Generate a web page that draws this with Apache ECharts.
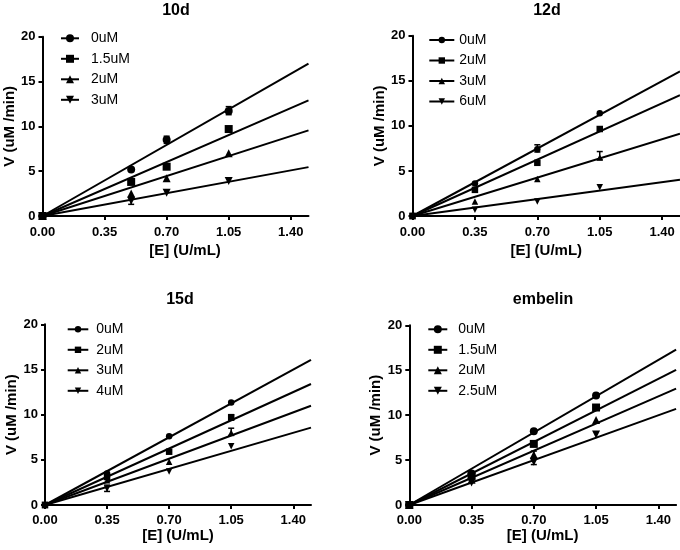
<!DOCTYPE html>
<html>
<head>
<meta charset="utf-8">
<script src="https://cdn.jsdelivr.net/npm/echarts@6/dist/echarts.min.js"></script>
<style>
html,body{margin:0;padding:0;background:#fff;}
#chart{width:680px;height:550px;}
</style>
</head>
<body>
<div id="chart"></div>
<script>
// ---------- shared ----------
const xTickValues = [0, 0.35, 0.70, 1.05, 1.40];
const xMax = 1.5;
const yMax = 20;
const yInterval = 5;
const xName = '[E] (U/mL)';
const yName = 'V (uM /min)';

// ---------- panel 10d ----------
const t10d = '10d';
const x10d = [0, 0.5, 0.7, 1.05];
const labels10d = ['0uM', '1.5uM', '2uM', '3uM'];
const v10d_0 = [0, 5.2, 8.5, 11.7];
const v10d_1 = [0, 3.8, 5.5, 9.7];
const v10d_2 = [0, 2.5, 4.2, 7.0];
const v10d_3 = [0, 1.7, 2.6, 3.9];
const fit10d = [17.0, 12.9, 9.55, 5.45];          // fitted line value at x = 1.5
const err10d = [[0.5, 1.3, 2.05], [0.7, 8.1, 8.9], [1.05, 11.3, 12.2]];

// ---------- panel 12d ----------
const t12d = '12d';
const x12d = [0, 0.35, 0.7, 1.05];
const labels12d = ['0uM', '2uM', '3uM', '6uM'];
const v12d_0 = [0, 3.6, 7.4, 11.4];
const v12d_1 = [0, 2.9, 5.9, 9.65];
const v12d_2 = [0, 1.6, 4.1, 6.5];
const v12d_3 = [0, 0.7, 1.6, 3.2];
const fit12d = [16.05, 13.4, 9.13, 4.02];
const err12d = [[0.7, 7.1, 7.9], [1.05, 6.25, 7.15]];

// ---------- panel 15d ----------
const t15d = '15d';
const x15d = [0, 0.35, 0.7, 1.05];
const labels15d = ['0uM', '2uM', '3uM', '4uM'];
const v15d_0 = [0, 3.5, 7.6, 11.35];
const v15d_1 = [0, 3.1, 5.9, 9.7];
const v15d_2 = [0, 2.75, 4.8, 8.0];
const v15d_3 = [0, 1.8, 3.7, 6.5];
const fit15d = [16.05, 13.39, 10.99, 8.56];
const err15d = [[1.05, 7.7, 8.5], [1.05, 9.4, 10.0], [0.35, 1.5, 2.2]];

// ---------- panel embelin ----------
const tEmb = 'embelin';
const xEmb = [0, 0.35, 0.7, 1.05];
const labelsEmb = ['0uM', '1.5uM', '2uM', '2.5uM'];
const vEmb_0 = [0, 3.5, 8.2, 12.2];
const vEmb_1 = [0, 3.2, 6.8, 10.85];
const vEmb_2 = [0, 2.8, 5.6, 9.45];
const vEmb_3 = [0, 2.5, 4.8, 7.85];
const fitEmb = [17.3, 15.05, 12.95, 10.7];
const errEmb = [[0.7, 5.2, 6.0], [0.7, 4.5, 5.1]];

// ---------- layout (styles only) ----------
const FONT = '"Liberation Sans", Arial, Helvetica, sans-serif';
const symbols = ['circle', 'rect', 'triangle', 'path://M0,0 L10,0 L5,10 Z'];

const panels = [
  { title: t10d, x: x10d, vals: [v10d_0, v10d_1, v10d_2, v10d_3], fit: fit10d, labels: labels10d, err: err10d,
    grid: { left: 42.5, top: 36.7, width: 266, height: 179.3 },
    titlePos: [176, 11], yGap: 25.5, xGap: 27.5, xNamePad: [0, 0, 0, 19], xLabMargin: 10,
    legend: { left: 60, top: 31.3, itemWidth: 18, textPad: 7 }, size: 8, legSize: 10 },
  { title: t12d, x: x12d, vals: [v12d_0, v12d_1, v12d_2, v12d_3], fit: fit12d, labels: labels12d, err: err12d,
    grid: { left: 412.5, top: 35.7, width: 269.4, height: 180.3 },
    titlePos: [547, 11], yGap: 20.5, xGap: 27.5, xNamePad: [0, 0, 0, 0], xLabMargin: 10,
    legend: { left: 428.3, top: 33, itemWidth: 25, textPad: 0 }, size: 6.5, legSize: 8 },
  { title: t15d, x: x15d, vals: [v15d_0, v15d_1, v15d_2, v15d_3], fit: fit15d, labels: labels15d, err: err15d,
    grid: { left: 45, top: 324.3, width: 266, height: 180.7 },
    titlePos: [180, 299.5], yGap: 24.8, xGap: 23.5, xNamePad: [0, 0, 0, 0], xLabMargin: 9,
    legend: { left: 66.7, top: 322.3, itemWidth: 20.6, textPad: 3 }, size: 6.5, legSize: 8 },
  { title: tEmb, x: xEmb, vals: [vEmb_0, vEmb_1, vEmb_2, vEmb_3], fit: fitEmb, labels: labelsEmb, err: errEmb,
    grid: { left: 409.3, top: 325.3, width: 266.8, height: 179.7 },
    titlePos: [543, 299.5], yGap: 25.8, xGap: 23.5, xNamePad: [0, 0, 0, 0], xLabMargin: 9,
    legend: { left: 427.3, top: 322.3, itemWidth: 19, textPad: 6 }, size: 8, legSize: 10 }
];

function renderErr(params, api) {
  const x = api.value(0), lo = api.value(1), hi = api.value(2);
  const p1 = api.coord([x, lo]), p2 = api.coord([x, hi]);
  const w = 3;
  const st = { stroke: '#000', lineWidth: 1.5 };
  return { type: 'group', children: [
    { type: 'line', shape: { x1: p1[0], y1: p1[1], x2: p2[0], y2: p2[1] }, style: st },
    { type: 'line', shape: { x1: p1[0] - w, y1: p1[1], x2: p1[0] + w, y2: p1[1] }, style: st },
    { type: 'line', shape: { x1: p2[0] - w, y1: p2[1], x2: p2[0] + w, y2: p2[1] }, style: st }
  ]};
}

const option = {
  animation: false,
  backgroundColor: '#fff',
  title: [], grid: [], xAxis: [], yAxis: [], legend: [], series: []
};

panels.forEach((p, i) => {
  option.title.push({
    text: p.title, left: p.titlePos[0], top: p.titlePos[1], padding: 0,
    textAlign: 'center', textVerticalAlign: 'middle',
    textStyle: { fontFamily: FONT, fontWeight: 'bold', fontSize: 16, color: '#000' }
  });
  option.grid.push(Object.assign({ containLabel: false }, p.grid));
  option.xAxis.push({
    type: 'value', gridIndex: i, min: 0, max: xMax,
    name: xName, nameLocation: 'middle', nameGap: p.xGap,
    nameTextStyle: { fontFamily: FONT, fontWeight: 'bold', fontSize: 15, color: '#000', padding: p.xNamePad },
    axisLine: { onZero: false, lineStyle: { color: '#000', width: 2 } },
    axisTick: { show: true, inside: false, length: 4, lineStyle: { color: '#000', width: 2 }, customValues: xTickValues },
    axisLabel: { customValues: xTickValues, formatter: v => Number(v).toFixed(2), margin: p.xLabMargin,
      fontFamily: FONT, fontWeight: 'bold', fontSize: 13, color: '#000' },
    splitLine: { show: false }
  });
  option.yAxis.push({
    type: 'value', gridIndex: i, min: 0, max: yMax, interval: yInterval,
    name: yName, nameLocation: 'middle', nameGap: p.yGap, nameRotate: 90,
    nameTextStyle: { fontFamily: FONT, fontWeight: 'bold', fontSize: 15, color: '#000' },
    axisLine: { show: true, onZero: false, lineStyle: { color: '#000', width: 2 } },
    axisTick: { show: true, inside: false, length: 4, lineStyle: { color: '#000', width: 2 } },
    axisLabel: { margin: 7, fontFamily: FONT, fontWeight: 'bold', fontSize: 13, color: '#000' },
    splitLine: { show: false }
  });
  const names = p.labels.map(l => p.title + '|' + l);
  option.legend.push({
    data: names, orient: 'vertical', left: p.legend.left, top: p.legend.top, padding: 0,
    itemWidth: p.legend.itemWidth, itemHeight: p.legSize, itemGap: 6.5,
    selectedMode: false,
    formatter: n => n.split('|')[1],
    textStyle: { fontFamily: FONT, fontSize: 14, color: '#000', lineHeight: 14, padding: [0, 0, 0, p.legend.textPad] }
  });
  p.vals.forEach((vals, k) => {
    option.series.push({
      type: 'line', name: names[k], xAxisIndex: i, yAxisIndex: i,
      data: [[0, 0], [xMax, p.fit[k]]],
      symbol: symbols[k], showSymbol: false, symbolSize: p.size,
      lineStyle: { color: '#000', width: 2 }, itemStyle: { color: '#000' },
      silent: true, z: 2
    });
    option.series.push({
      type: 'scatter', name: names[k] + ' pts', xAxisIndex: i, yAxisIndex: i,
      data: p.x.map((xv, j) => [xv, vals[j]]),
      symbol: symbols[k], symbolSize: p.size,
      itemStyle: { color: '#000', opacity: 1 }, silent: true, z: 3
    });
  });
  option.series.push({
    type: 'custom', name: p.title + ' err', xAxisIndex: i, yAxisIndex: i,
    renderItem: renderErr, data: p.err, encode: { x: 0, y: [1, 2] }, silent: true, z: 4
  });
});

const chart = echarts.init(document.getElementById('chart'), null, { renderer: 'canvas' });
chart.setOption(option);
</script>
</body>
</html>
